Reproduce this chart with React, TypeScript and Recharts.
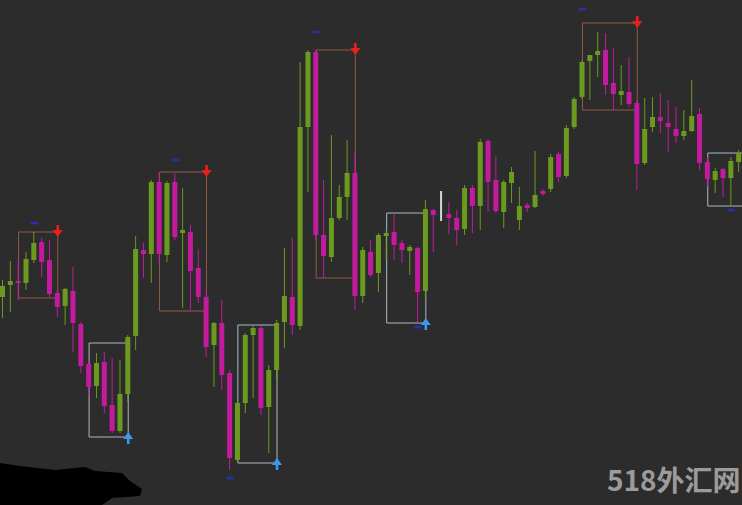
import React from 'react';
import { ComposedChart, Bar, XAxis, YAxis, ReferenceArea, ReferenceDot } from 'recharts';

// OHLC (arbitrary price units)
const opens = [
  208, 220, 224, 222, 245, 263, 245, 212, 199, 214,
  181, 141, 119, 143, 100, 74, 111, 169, 255, 251,
  323, 250, 323, 272, 273, 237, 208, 160, 182, 132,
  45, 102, 170, 177, 98, 135, 183, 208, 179, 378,
  453, 270, 248, 287, 308, 332, 209, 253, 232, 269,
  273, 262, 254, 257, 214, 295, 299, 291, 287, 276,
  317, 299, 364, 325, 293, 322, 285, 300, 298, 314,
  316, 351, 329, 378, 408, 444, 450, 455, 422, 410,
  413, 402, 342, 378, 388, 382, 376, 369, 374, 391,
  343, 325, 336, 327, 343,
];
const highs = [
  225, 244, 245, 253, 273, 267, 265, 215, 217, 238,
  183, 145, 152, 153, 147, 145, 170, 269, 262, 325,
  333, 324, 332, 317, 280, 255, 215, 183, 205, 135,
  105, 172, 179, 179, 140, 185, 257, 267, 443, 455,
  455, 325, 370, 320, 365, 352, 258, 265, 272, 275,
  292, 265, 260, 258, 305, 296, 314, 303, 295, 320,
  320, 366, 366, 349, 325, 338, 318, 302, 354, 316,
  351, 353, 380, 408, 445, 450, 473, 472, 457, 440,
  448, 405, 407, 408, 412, 405, 398, 395, 425, 397,
  348, 337, 337, 348, 355,
];
const lows = [
  187, 193, 205, 215, 242, 228, 208, 188, 180, 153,
  132, 108, 107, 92, 72, 72, 103, 155, 227, 222,
  243, 243, 265, 197, 195, 202, 148, 118, 115, 35,
  42, 92, 107, 90, 52, 125, 157, 170, 175, 313,
  265, 227, 243, 285, 285, 195, 202, 228, 213, 245,
  245, 242, 230, 183, 205, 253, 284, 271, 260, 270,
  272, 275, 293, 292, 277, 302, 275, 293, 297, 309,
  313, 323, 327, 376, 406, 405, 428, 410, 395, 400,
  398, 315, 340, 373, 372, 353, 362, 365, 373, 335,
  318, 312, 308, 300, 333,
];
const closes = [
  219, 224, 222, 246, 262, 243, 211, 198, 216, 182,
  139, 118, 142, 99, 74, 111, 168, 256, 251, 323,
  251, 322, 268, 275, 234, 208, 158, 182, 130, 47,
  102, 170, 177, 97, 135, 182, 209, 180, 378, 453,
  270, 249, 287, 308, 332, 209, 255, 230, 270, 272,
  260, 255, 258, 213, 296, 290, 299, 287, 275, 317,
  299, 363, 323, 294, 323, 333, 299, 297, 310, 311,
  348, 328, 377, 406, 443, 450, 454, 420, 411, 414,
  401, 341, 376, 388, 384, 378, 369, 374, 389, 342,
  326, 334, 327, 344, 352,
];

// Signal boxes: first bar, last bar, top price, bottom price
const boxStart = [2, 11, 20, 30, 40, 49, 74, 90];
const boxEnd = [7, 16, 26, 35, 45, 54, 81, 94];
const boxTop = [273, 162, 333, 180, 455, 292, 482, 352];
const boxBottom = [207, 68, 194, 42, 227, 182, 395, 299];
const boxKind = ['sell', 'buy', 'sell', 'buy', 'sell', 'buy', 'sell', 'buy'];
const boxOpen = [false, false, false, false, false, false, false, true];

// small dark-blue marks
const markBar = [4, 22, 40, 74, 29, 53, 93];
const markPrice = [282, 345, 473, 496, 27, 178, 295];

const data = opens.map((o, i) => ({
  i,
  open: o,
  high: highs[i],
  low: lows[i],
  close: closes[i],
  range: [lows[i], highs[i]],
}));

const UP = '#6c9a20';
const DOWN = '#c41a9d';
const SELL_BOX = '#94584a';
const BUY_BOX = '#a9b9c6';
const SELL_ARROW = '#e8201c';
const BUY_ARROW = '#3d97ee';

const Candle = (props: any) => {
  const { x, y, width, height, payload } = props;
  if (x == null || !payload) return null;
  const { open, close, high, low } = payload;
  const top = Math.min(y, y + height);
  const h = Math.abs(height);
  const span = high - low || 1;
  const py = (v: number) => top + ((high - v) / span) * h;
  const color = close > open ? UP : close < open ? DOWN : '#d6d6d6';
  const cx = x + width / 2;
  const bTop = py(Math.max(open, close));
  const bBot = py(Math.min(open, close));
  return (
    <g>
      <line x1={cx} x2={cx} y1={top} y2={top + h} stroke={color} strokeWidth={open === close ? 2 : 1} />
      {open !== close && (
        <rect x={x} y={bTop} width={width} height={Math.max(1.5, bBot - bTop)} fill={color} />
      )}
    </g>
  );
};

const makeBox = (count: number, color: string, openRight: boolean) => (p: any) => {
  if (p.x == null) return <g />;
  const inset = p.width / count / 2;
  const l = p.x + inset;
  const r = openRight ? p.x + p.width + 40 : p.x + p.width - inset;
  const t = p.y;
  const b = p.y + p.height;
  const d = openRight
    ? `M${r},${t} L${l},${t} L${l},${b} L${r},${b}`
    : `M${l},${t} L${r},${t} L${r},${b} L${l},${b} Z`;
  return <path d={d} fill="none" stroke={color} strokeWidth={1} />;
};

const SellArrow = (p: any) => {
  const { cx, cy } = p;
  if (cx == null) return <g />;
  return (
    <g fill={SELL_ARROW}>
      <rect x={cx - 1.3} y={cy - 7} width={2.6} height={7} />
      <path d={`M${cx - 5},${cy - 2} L${cx + 5},${cy - 2} L${cx},${cy + 5} Z`} />
    </g>
  );
};

const BuyArrow = (p: any) => {
  const { cx, cy } = p;
  if (cx == null) return <g />;
  return (
    <g fill={BUY_ARROW}>
      <rect x={cx - 1.3} y={cy} width={2.6} height={7} />
      <path d={`M${cx - 5},${cy + 2} L${cx + 5},${cy + 2} L${cx},${cy - 5} Z`} />
    </g>
  );
};

const Mark = (p: any) => {
  const { cx, cy } = p;
  if (cx == null) return <g />;
  return <ellipse cx={cx} cy={cy} rx={4} ry={1.6} fill="#2a2fa8" />;
};

export default function App() {
  return (
    <div
      style={{
        position: 'fixed',
        left: 0,
        top: 0,
        width: 742,
        height: 505,
        overflow: 'hidden',
        background: '#2c2c2c',
      }}
    >
      <div style={{ position: 'absolute', left: -1.2, top: 0 }}>
        <ComposedChart width={744} height={505} data={data} margin={{ top: 0, right: 0, bottom: 0, left: 0 }}>
          <XAxis dataKey="i" hide />
          <YAxis hide domain={[0, 505]} type="number" />
          {boxStart.map((s, k) => (
            <ReferenceArea
              key={'box' + k}
              x1={s}
              x2={boxEnd[k]}
              y1={boxBottom[k]}
              y2={boxTop[k]}
              ifOverflow="visible"
              shape={makeBox(boxEnd[k] - s + 1, boxKind[k] === 'sell' ? SELL_BOX : BUY_BOX, boxOpen[k])}
            />
          ))}
          <Bar dataKey="range" barSize={5} shape={<Candle />} isAnimationActive={false} />
          {boxStart.map((s, k) =>
            boxOpen[k] ? null : (
              <ReferenceDot
                key={'arr' + k}
                x={boxEnd[k]}
                y={boxKind[k] === 'sell' ? boxTop[k] : boxBottom[k]}
                ifOverflow="visible"
                shape={boxKind[k] === 'sell' ? SellArrow : BuyArrow}
              />
            )
          )}
          {markBar.map((b, k) => (
            <ReferenceDot key={'m' + k} x={b} y={markPrice[k]} ifOverflow="visible" shape={Mark} />
          ))}
        </ComposedChart>
      </div>
      <svg width={742} height={505} style={{ position: 'absolute', left: 0, top: 0, pointerEvents: 'none' }}>
        <path
          d="M0,463 L20,466 L55,470 L85,467 L95,471 L122,473 L130,481 L142,489 L140,496 L112,498 L102,505 L0,505 Z"
          fill="#000000"
        />
      </svg>
      <div
        style={{
          position: 'absolute',
          left: 607,
          top: 465,
          fontFamily: '"Noto Sans CJK SC", "Noto Sans", sans-serif',
          fontWeight: 700,
          fontSize: 28,
          lineHeight: '28px',
          color: '#9b9b9b',
          whiteSpace: 'nowrap',
        }}
      >
        518外汇网
      </div>
    </div>
  );
}
